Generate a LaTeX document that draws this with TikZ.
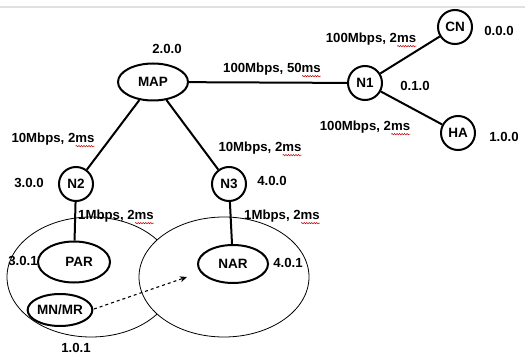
\documentclass[tikz,border=0pt]{standalone}
\usepackage{fontspec}
\setmainfont{Liberation Sans}
\usetikzlibrary{shapes.geometric,arrows.meta,decorations.pathmorphing}
\begin{document}
\begin{tikzpicture}[x=1pt,y=-1pt,
  lbl/.style={font=\bfseries\fontsize{13.2}{15}\selectfont, inner sep=0pt},
  rnode/.style={circle, draw, line width=2pt, minimum size=34pt, inner sep=0pt, font=\bfseries\fontsize{13.5}{15}\selectfont, fill=white},
  enode/.style={ellipse, draw, line width=2pt, inner sep=0pt, font=\bfseries\fontsize{13.5}{15}\selectfont, fill=white},
  link/.style={line width=2pt},
  zone/.style={draw, line width=0.8pt},
  squig/.style={red!75!black, line width=0.5pt, decorate, decoration={snake, amplitude=0.7pt, segment length=2.5pt}},
  move/.style={dashed, line width=1.1pt, -{Stealth[length=7pt,width=6pt]}}
]
\useasboundingbox (0,0) rectangle (525,358);
\draw[black!12, line width=1.5pt] (0,7) -- (525,7);

% access zones
\draw[zone] (91,277) ellipse [x radius=84, y radius=60];
\draw[zone, fill=white] (224,277) ellipse [x radius=85, y radius=60];

% nodes
\node[enode, minimum width=70pt, minimum height=37pt] (map) at (153,82) {MAP};
\node[rnode] (n1) at (365,83) {N1};
\node[rnode] (cn) at (455,27) {CN};
\node[rnode] (ha) at (458,133) {HA};
\node[rnode] (n2) at (76,184) {N2};
\node[rnode] (n3) at (229,184) {N3};
\node[enode, minimum width=72pt, minimum height=41pt] (par) at (74,262) {\hspace*{10pt}PAR};
\node[enode, minimum width=70pt, minimum height=38pt] (nar) at (233,264) {NAR};
\node[enode, minimum width=63pt, minimum height=32pt] (mnmr) at (60,310) {MN/MR};

% links
\draw[link] (map) -- (n1);
\draw[link] (n1) -- (cn);
\draw[link] (n1) -- (ha);
\draw[link] (map) -- (n2);
\draw[link] (map) -- (n3);
\draw[link] (n2) -- (par);
\draw[link] (n3) -- (nar);

% movement
\coordinate (mvs) at (94,309);
\coordinate (mve) at (187,277);
\draw[move] (mvs) -- (mve);

% labels
\node[lbl] (a200) at (167,49) {2.0.0};
\node[lbl] (lmn) at (272,69) {100Mbps, 50ms};
\node[lbl] (lnc) at (371,39) {100Mbps, 2ms};
\node[lbl] (a000) at (499,31) {0.0.0};
\node[lbl] (a010) at (415,86) {0.1.0};
\node[lbl] (lnh) at (365,127) {100Mbps, 2ms};
\node[lbl] (a100) at (504,137) {1.0.0};
\node[lbl] (lm2) at (53,139) {10Mbps, 2ms};
\node[lbl] (lm3) at (260,148) {10Mbps, 2ms};
\node[lbl] (a300) at (29,183) {3.0.0};
\node[lbl] (a400) at (272,181) {4.0.0};
\node[lbl] (l2p) at (116,216) {1Mbps, 2ms};
\node[lbl] (l3n) at (282,216) {1Mbps, 2ms};
\node[lbl] (a301) at (23,261) {3.0.1};
\node[lbl] (a401) at (288,263) {4.0.1};
\node[lbl] (a101) at (76,348) {1.0.1};

% spell-check marks
\foreach \l in {lmn,lnc,lnh,lm2,lm3,l2p,l3n}{
  \draw[squig] ([xshift=-19pt,yshift=-0.8pt]\l.south east) -- ([yshift=-0.8pt]\l.south east);
}
\end{tikzpicture}
\end{document}
